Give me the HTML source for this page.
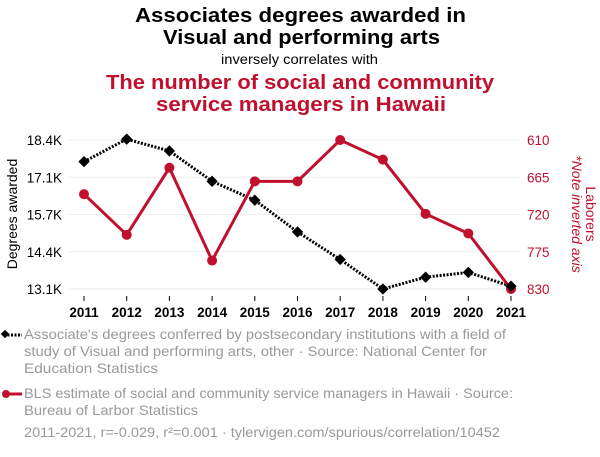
<!DOCTYPE html>
<html><head><meta charset="utf-8"><style>
body{margin:0;width:600px;height:452px;background:#fff;font-family:"Liberation Sans",sans-serif;overflow:hidden}
</style></head><body>
<svg width="600" height="452" xmlns="http://www.w3.org/2000/svg" font-family="Liberation Sans, sans-serif">
<text x="135" y="22" textLength="331" lengthAdjust="spacingAndGlyphs" font-size="20" font-weight="bold">Associates degrees awarded in</text>
<text x="163" y="44" textLength="277" lengthAdjust="spacingAndGlyphs" font-size="20" font-weight="bold">Visual and performing arts</text>
<text x="221" y="64" textLength="157" lengthAdjust="spacingAndGlyphs" font-size="13.5">inversely correlates with</text>
<text x="106" y="89" textLength="388" lengthAdjust="spacingAndGlyphs" font-size="20" font-weight="bold" fill="#c0102e">The number of social and community</text>
<text x="156" y="111" textLength="290" lengthAdjust="spacingAndGlyphs" font-size="20" font-weight="bold" fill="#c0102e">service managers in Hawaii</text>
<g id="grid"></g>
<g id="axes"></g>
<text transform="translate(17,214) rotate(-90)" text-anchor="middle" font-size="14">Degrees awarded</text>
<text transform="translate(586,214) rotate(90)" text-anchor="middle" font-size="14" fill="#c0102e">Laborers</text>
<text transform="translate(572,214) rotate(90)" text-anchor="middle" font-size="14" font-style="italic" fill="#c0102e">*Note inverted axis</text>
<g id="series"></g>
<g>
<line x1="4" y1="335" x2="22" y2="335" stroke="#000" stroke-width="3" stroke-dasharray="2,1.5"/>
<rect x="2" y="331" width="6" height="6" transform="rotate(45 5 334)" fill="#000"/>
<text font-size="14" fill="#999"><tspan x="24" y="339" textLength="482" lengthAdjust="spacingAndGlyphs">Associate's degrees conferred by postsecondary institutions with a field of</tspan><tspan x="24" y="356" textLength="463" lengthAdjust="spacingAndGlyphs">study of Visual and performing arts, other · Source: National Center for</tspan><tspan x="24" y="373" textLength="134" lengthAdjust="spacingAndGlyphs">Education Statistics</tspan></text>
</g>
<g>
<line x1="4" y1="394" x2="22" y2="394" stroke="#c0102e" stroke-width="3"/>
<circle cx="6" cy="394" r="4" fill="#c0102e"/>
<text font-size="14" fill="#999"><tspan x="24" y="398" textLength="489" lengthAdjust="spacingAndGlyphs">BLS estimate of social and community service managers in Hawaii · Source:</tspan><tspan x="24" y="415" textLength="174" lengthAdjust="spacingAndGlyphs">Bureau of Larbor Statistics</tspan></text>
</g>
<text x="24" y="437" textLength="476" lengthAdjust="spacingAndGlyphs" font-size="14" fill="#999">2011-2021, r=-0.029, r²=0.001 · tylervigen.com/spurious/correlation/10452</text>
</svg>
<script>
const years=[2011,2012,2013,2014,2015,2016,2017,2018,2019,2020,2021];
const degrees=[17.63,18.43,18.01,16.93,16.26,15.13,14.15,13.1,13.52,13.69,13.2];
const managers=[690,750,651,788,671,671,610,639,719,748,830];
const leftTicks=["18.4K","17.1K","15.7K","14.4K","13.1K"];
const rightTicks=[610,665,720,775,830];
const NS="http://www.w3.org/2000/svg";
const x=i=>84+(511-84)*(i-years[0])/(years[years.length-1]-years[0]);
const yL=v=>140+(18.4-v)*(289-140)/(18.4-13.1);
const yR=v=>140+(v-610)*(289-140)/(830-610);
function el(p,t,a){const e=document.createElementNS(NS,t);for(const k in a)e.setAttribute(k,a[k]);p.appendChild(e);return e;}
const grid=document.getElementById('grid'),axes=document.getElementById('axes'),series=document.getElementById('series');
leftTicks.forEach((t,i)=>{const yy=140+i*(289-140)/4;
const g=el(grid,'line',{x1:68,x2:520,y1:yy,y2:yy,stroke:'#eee','stroke-width':1});


const tl=el(axes,'text',{x:62,y:yy+5,'text-anchor':'end','font-size':13.5});tl.textContent=t;


const tr=el(axes,'text',{x:527,y:yy+5,'font-size':13.5,fill:'#c0102e'});tr.textContent=rightTicks[i];

});
years.forEach(yr=>{const xx=x(yr);
el(axes,'line',{x1:xx,x2:xx,y1:296,y2:301,stroke:'#000'});
const t=el(axes,'text',{x:xx,y:317,'text-anchor':'middle','font-size':13.5,'font-weight':'bold'});t.textContent=yr;

});
const pb=el(series,'polyline',{points:years.map((yr,i)=>x(yr)+','+yL(degrees[i])).join(' '),fill:'none',stroke:'#000','stroke-width':3,'stroke-dasharray':'2,1.5'});


const pr=el(series,'polyline',{points:years.map((yr,i)=>x(yr)+','+yR(managers[i])).join(' '),fill:'none',stroke:'#c0102e','stroke-width':3});


years.forEach((yr,i)=>{
const c=el(series,'circle',{cx:x(yr),cy:yR(managers[i]),r:5,fill:'#c0102e'});


const xx=x(yr),yy=yL(degrees[i]);
const d=el(series,'rect',{x:xx-4,y:yy-4,width:8,height:8,fill:'#000',transform:`rotate(45 ${xx} ${yy})`});

});
</script>
</body></html>
